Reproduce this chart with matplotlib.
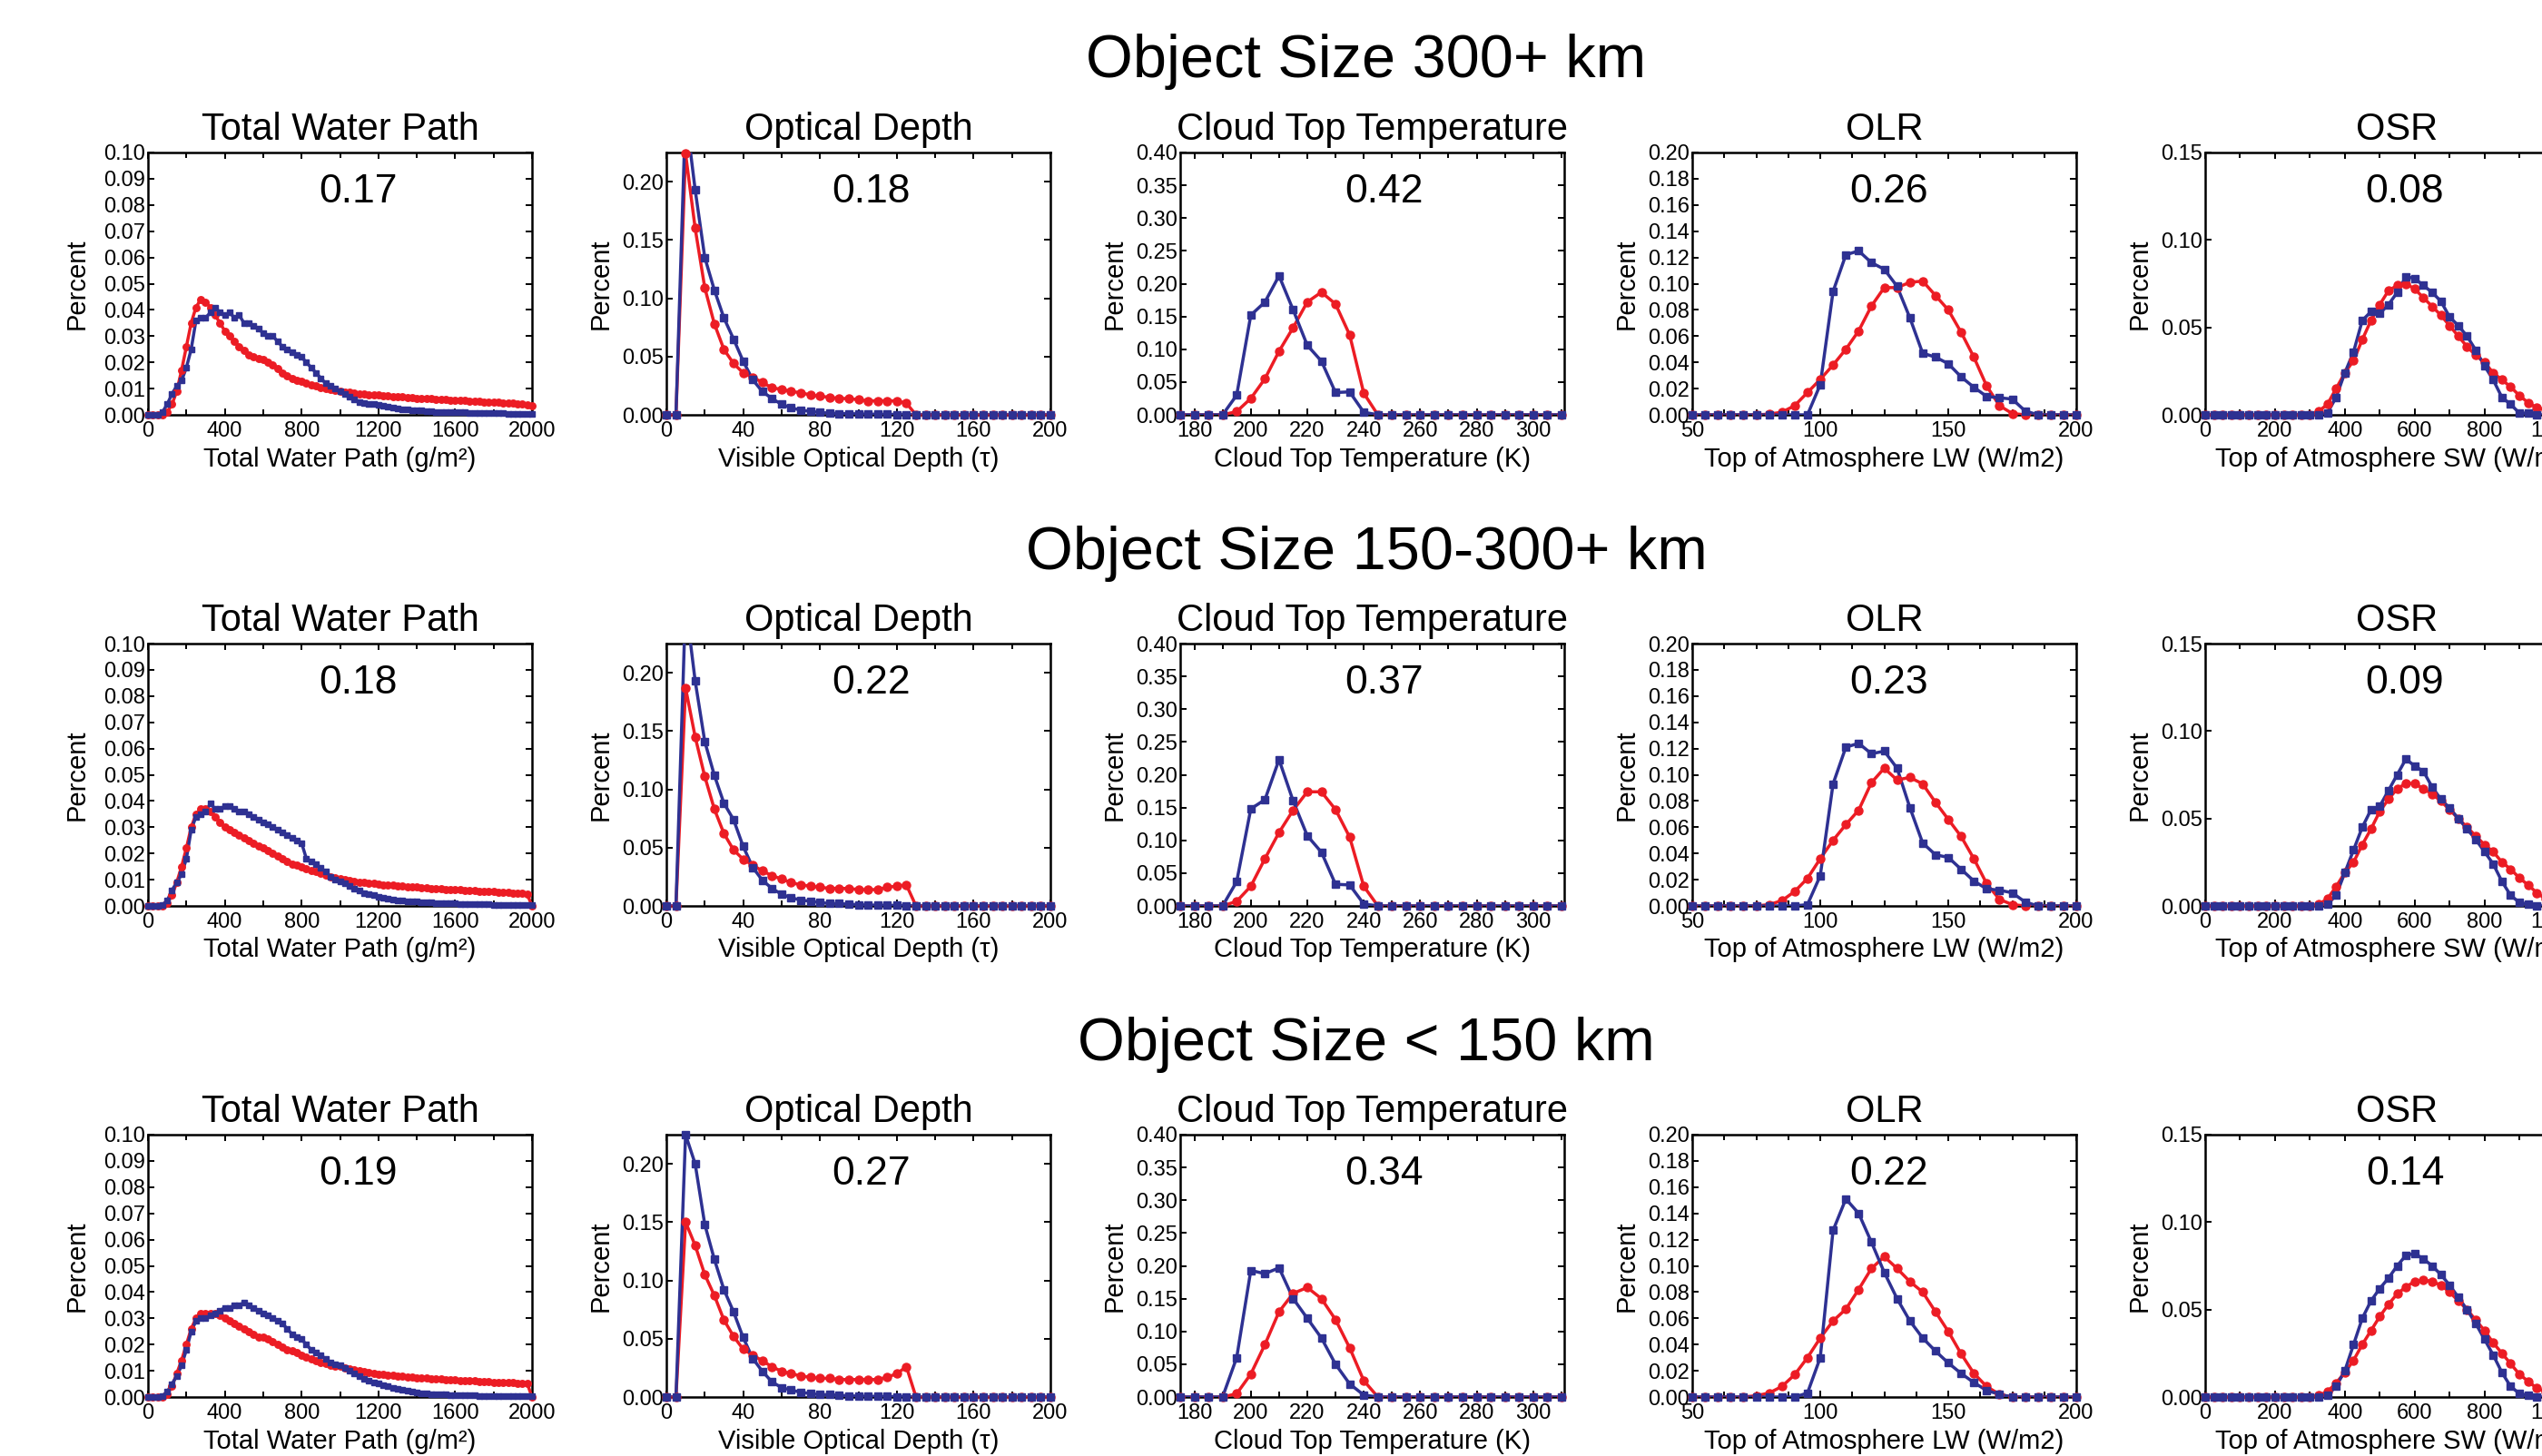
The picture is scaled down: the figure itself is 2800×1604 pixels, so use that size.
import matplotlib
matplotlib.use("Agg")
import matplotlib.pyplot as plt
import numpy as np
from matplotlib.ticker import MultipleLocator, FormatStrFormatter

plt.rcParams['font.family'] = ['Liberation Sans', 'DejaVu Sans']

RED = '#EC1C24'
BLUE = '#2E3192'

row_titles = ["Object Size 300+ km", "Object Size 150-300+ km", "Object Size < 150 km"]
panel_titles = ["Total Water Path", "Optical Depth", "Cloud Top Temperature", "OLR", "OSR"]
x_labels = ["Total Water Path (g/m\u00b2)", "Visible Optical Depth (\u03c4)",
            "Cloud Top Temperature (K)", "Top of Atmosphere LW (W/m2)",
            "Top of Atmosphere SW (W/m2)"]
scores = [["0.17", "0.18", "0.42", "0.26", "0.08"],
          ["0.18", "0.22", "0.37", "0.23", "0.09"],
          ["0.19", "0.27", "0.34", "0.22", "0.14"]]

# ---------------- bin centres ----------------
twp_x = np.arange(0, 2001, 25)
od_x = np.arange(0, 201, 5)
ctt_x = np.arange(175, 311, 5)
olr_x = np.arange(50, 201, 5)
osr_x = np.arange(0, 1001, 25)

# ---------------- Total Water Path ----------------
twp_red_300 = [0, 0, 0, 0, 0.001, 0.004, 0.009, 0.017, 0.026, 0.035,
               0.041, 0.044, 0.043, 0.041, 0.038, 0.035, 0.032, 0.030, 0.028, 0.026,
               0.0245, 0.023, 0.022, 0.0215, 0.021, 0.020, 0.019, 0.0175, 0.016, 0.015,
               0.014, 0.0133, 0.0127, 0.0121, 0.0115, 0.011, 0.0105, 0.0101, 0.0097, 0.0094,
               0.0091, 0.0088, 0.0085, 0.0083, 0.0081, 0.0079, 0.0077, 0.0076, 0.0075, 0.0073,
               0.0072, 0.0070, 0.0069, 0.0068, 0.0066, 0.0065, 0.0064, 0.0063, 0.0062, 0.0061,
               0.0060, 0.0059, 0.0058, 0.0057, 0.0056, 0.0055, 0.0054, 0.0053, 0.0052, 0.0051,
               0.0050, 0.0049, 0.0048, 0.0047, 0.0046, 0.0045, 0.0044, 0.0042, 0.0040, 0.0038,
               0.0035]
twp_blue_300 = [0, 0, 0, 0.001, 0.004, 0.008, 0.011, 0.013, 0.018, 0.025,
                0.036, 0.037, 0.037, 0.039, 0.041, 0.039, 0.038, 0.039, 0.037, 0.038,
                0.035, 0.035, 0.034, 0.033, 0.031, 0.030, 0.030, 0.028, 0.026, 0.025,
                0.024, 0.023, 0.022, 0.020, 0.018, 0.016, 0.014, 0.012, 0.011, 0.010,
                0.009, 0.008, 0.007, 0.006, 0.005, 0.0045, 0.004, 0.004, 0.0038, 0.0033,
                0.0030, 0.0027, 0.0024, 0.0022, 0.0020, 0.0019, 0.0017, 0.0016, 0.0014, 0.0013,
                0.0012, 0.0011, 0.0011, 0.0010, 0.0010, 0.0009, 0.0009, 0.0008, 0.0008, 0.0007,
                0.0007, 0.0007, 0.0006, 0.0006, 0.0006, 0.0005, 0.0005, 0.0005, 0.0004, 0.0004,
                0.0004]
twp_red_150 = [0, 0, 0, 0, 0.001, 0.004, 0.009, 0.015, 0.022, 0.030,
               0.035, 0.037, 0.037, 0.036, 0.034, 0.032, 0.030, 0.029, 0.028, 0.027,
               0.026, 0.025, 0.024, 0.023, 0.022, 0.021, 0.020, 0.019, 0.018, 0.017,
               0.016, 0.0155, 0.015, 0.0142, 0.0135, 0.013, 0.0123, 0.0117, 0.0112, 0.0107,
               0.0103, 0.0099, 0.0096, 0.0094, 0.0091, 0.0089, 0.0087, 0.0085, 0.0083, 0.0081,
               0.0080, 0.0078, 0.0077, 0.0075, 0.0074, 0.0072, 0.0071, 0.0070, 0.0068, 0.0067,
               0.0066, 0.0065, 0.0064, 0.0063, 0.0062, 0.0061, 0.0060, 0.0059, 0.0058, 0.0057,
               0.0056, 0.0055, 0.0054, 0.0053, 0.0052, 0.0051, 0.0050, 0.0049, 0.0048, 0.0045,
               0.0]
twp_blue_150 = [0, 0, 0, 0.0005, 0.002, 0.006, 0.009, 0.012, 0.018, 0.029,
                0.034, 0.035, 0.036, 0.039, 0.037, 0.037, 0.038, 0.038, 0.037, 0.036,
                0.036, 0.035, 0.034, 0.033, 0.032, 0.031, 0.030, 0.029, 0.028, 0.027,
                0.026, 0.025, 0.024, 0.018, 0.017, 0.016, 0.0145, 0.013, 0.011, 0.010,
                0.0092, 0.0085, 0.0075, 0.0065, 0.0058, 0.0050, 0.0045, 0.0040, 0.0035, 0.0030,
                0.0027, 0.0025, 0.0022, 0.0020, 0.0018, 0.0017, 0.0016, 0.0015, 0.0014, 0.0013,
                0.0012, 0.0011, 0.0010, 0.0010, 0.0009, 0.0008, 0.0008, 0.0007, 0.0007, 0.0006,
                0.0006, 0.0006, 0.0005, 0.0005, 0.0005, 0.0004, 0.0004, 0.0004, 0.0003, 0.0003,
                0.0003]
twp_red_small = [0, 0, 0, 0, 0.001, 0.004, 0.009, 0.014, 0.020, 0.026,
                 0.030, 0.032, 0.032, 0.032, 0.032, 0.031, 0.030, 0.029, 0.028, 0.027,
                 0.026, 0.025, 0.024, 0.023, 0.023, 0.022, 0.021, 0.020, 0.019, 0.018,
                 0.0175, 0.0168, 0.016, 0.0153, 0.0147, 0.014, 0.0133, 0.0127, 0.0122, 0.0119,
                 0.0116, 0.0112, 0.0108, 0.0104, 0.0100, 0.0097, 0.0094, 0.0091, 0.0088, 0.0086,
                 0.0084, 0.0082, 0.0080, 0.0078, 0.0076, 0.0075, 0.0073, 0.0072, 0.0071, 0.0070,
                 0.0069, 0.0068, 0.0067, 0.0066, 0.0065, 0.0064, 0.0063, 0.0062, 0.0061, 0.0060,
                 0.0059, 0.0058, 0.0057, 0.0056, 0.0056, 0.0055, 0.0054, 0.0053, 0.0053, 0.0052,
                 0.0]
twp_blue_small = [0, 0, 0, 0.0005, 0.002, 0.005, 0.008, 0.012, 0.018, 0.025,
                  0.029, 0.030, 0.030, 0.031, 0.032, 0.033, 0.034, 0.034, 0.035, 0.035,
                  0.036, 0.035, 0.034, 0.033, 0.032, 0.031, 0.030, 0.029, 0.028, 0.026,
                  0.024, 0.023, 0.022, 0.020, 0.018, 0.017, 0.016, 0.0145, 0.013, 0.0125,
                  0.012, 0.011, 0.010, 0.009, 0.008, 0.007, 0.0063, 0.0057, 0.0052, 0.0045,
                  0.0040, 0.0035, 0.0030, 0.0026, 0.0023, 0.0020, 0.0017, 0.0015, 0.0013, 0.0012,
                  0.0011, 0.0010, 0.0009, 0.0008, 0.0008, 0.0007, 0.0007, 0.0006, 0.0006, 0.0005,
                  0.0005, 0.0005, 0.0004, 0.0004, 0.0004, 0.0003, 0.0003, 0.0003, 0.0003, 0.0002,
                  0.0002]

# ---------------- Optical Depth ----------------
od_red_300 = [0, 0, 0.224, 0.160, 0.109, 0.078, 0.056, 0.044, 0.036, 0.032,
              0.028, 0.023, 0.022, 0.020, 0.019, 0.017, 0.016, 0.015, 0.014, 0.014,
              0.013, 0.012, 0.012, 0.012, 0.012, 0.010, 0, 0, 0, 0,
              0, 0, 0, 0, 0, 0, 0, 0, 0, 0, 0]
od_blue_300 = [0, 0, 0.26, 0.193, 0.135, 0.107, 0.083, 0.065, 0.046, 0.030,
               0.020, 0.014, 0.009, 0.006, 0.004, 0.003, 0.002, 0.0015, 0.001, 0.001,
               0.0008, 0.0006, 0.0005, 0.0004, 0.0003, 0.0003, 0, 0, 0, 0,
               0, 0, 0, 0, 0, 0, 0, 0, 0, 0, 0]
od_red_150 = [0, 0, 0.187, 0.145, 0.111, 0.083, 0.062, 0.048, 0.040, 0.035,
              0.030, 0.026, 0.023, 0.020, 0.018, 0.017, 0.016, 0.015, 0.015, 0.015,
              0.014, 0.014, 0.014, 0.016, 0.017, 0.018, 0, 0, 0, 0,
              0, 0, 0, 0, 0, 0, 0, 0, 0, 0, 0]
od_blue_150 = [0, 0, 0.26, 0.193, 0.141, 0.112, 0.088, 0.074, 0.051, 0.033,
               0.022, 0.015, 0.010, 0.007, 0.005, 0.004, 0.003, 0.002, 0.002, 0.0015,
               0.001, 0.0008, 0.0006, 0.0005, 0.0004, 0.0003, 0, 0, 0, 0,
               0, 0, 0, 0, 0, 0, 0, 0, 0, 0, 0]
od_red_small = [0, 0, 0.150, 0.130, 0.105, 0.087, 0.066, 0.052, 0.041, 0.036,
                0.031, 0.026, 0.022, 0.020, 0.018, 0.017, 0.016, 0.016, 0.015, 0.015,
                0.015, 0.015, 0.015, 0.017, 0.020, 0.026, 0, 0, 0, 0,
                0, 0, 0, 0, 0, 0, 0, 0, 0, 0, 0]
od_blue_small = [0, 0, 0.225, 0.200, 0.148, 0.118, 0.092, 0.073, 0.051, 0.033,
                 0.022, 0.013, 0.008, 0.006, 0.004, 0.003, 0.002, 0.002, 0.0015, 0.001,
                 0.0008, 0.0006, 0.0005, 0.0004, 0.0003, 0.0003, 0, 0, 0, 0,
                 0, 0, 0, 0, 0, 0, 0, 0, 0, 0, 0]

# ---------------- Cloud Top Temperature ----------------
ctt_red_300 = [0, 0, 0, 0, 0.005, 0.025, 0.055, 0.097, 0.133, 0.172, 0.187, 0.169, 0.122, 0.033,
               0, 0, 0, 0, 0, 0, 0, 0, 0, 0, 0, 0, 0, 0]
ctt_blue_300 = [0, 0, 0, 0, 0.030, 0.152, 0.172, 0.212, 0.160, 0.106, 0.082, 0.034, 0.035, 0.004,
                0, 0, 0, 0, 0, 0, 0, 0, 0, 0, 0, 0, 0, 0]
ctt_red_150 = [0, 0, 0, 0, 0.007, 0.030, 0.072, 0.112, 0.146, 0.174, 0.174, 0.147, 0.105, 0.030,
               0, 0, 0, 0, 0, 0, 0, 0, 0, 0, 0, 0, 0, 0]
ctt_blue_150 = [0, 0, 0, 0, 0.037, 0.148, 0.162, 0.223, 0.160, 0.107, 0.082, 0.033, 0.032, 0.003,
                0, 0, 0, 0, 0, 0, 0, 0, 0, 0, 0, 0, 0, 0]
ctt_red_small = [0, 0, 0, 0, 0.005, 0.035, 0.080, 0.130, 0.158, 0.167, 0.150, 0.118, 0.075, 0.025,
                 0, 0, 0, 0, 0, 0, 0, 0, 0, 0, 0, 0, 0, 0]
ctt_blue_small = [0, 0, 0, 0, 0.060, 0.193, 0.188, 0.197, 0.150, 0.120, 0.090, 0.050, 0.020, 0.003,
                  0, 0, 0, 0, 0, 0, 0, 0, 0, 0, 0, 0, 0, 0]

# ---------------- OLR ----------------
olr_red_300 = [0, 0, 0, 0, 0, 0, 0.0005, 0.002, 0.007, 0.017, 0.027, 0.038, 0.050, 0.064,
               0.083, 0.097, 0.097, 0.101, 0.102, 0.091, 0.080, 0.063, 0.044, 0.022, 0.007,
               0.001, 0, 0, 0, 0, 0]
olr_blue_300 = [0, 0, 0, 0, 0, 0, 0, 0, 0, 0, 0.023, 0.094, 0.122, 0.125, 0.116, 0.111,
                0.098, 0.074, 0.047, 0.044, 0.039, 0.029, 0.021, 0.014, 0.013, 0.012, 0.003,
                0, 0, 0, 0]
olr_red_150 = [0, 0, 0, 0, 0, 0, 0.001, 0.004, 0.011, 0.021, 0.036, 0.050, 0.062, 0.073,
               0.094, 0.105, 0.096, 0.098, 0.093, 0.079, 0.066, 0.053, 0.036, 0.017, 0.005,
               0.001, 0, 0, 0, 0, 0]
olr_blue_150 = [0, 0, 0, 0, 0, 0, 0, 0, 0, 0.001, 0.023, 0.093, 0.121, 0.124, 0.116, 0.118,
                0.105, 0.075, 0.048, 0.039, 0.037, 0.028, 0.019, 0.013, 0.012, 0.010, 0.003,
                0, 0, 0, 0]
olr_red_small = [0, 0, 0, 0, 0, 0.001, 0.003, 0.008, 0.017, 0.030, 0.045, 0.058, 0.067, 0.082,
                 0.098, 0.107, 0.098, 0.088, 0.080, 0.065, 0.050, 0.033, 0.018, 0.008, 0.002,
                 0, 0, 0, 0, 0, 0]
olr_blue_small = [0, 0, 0, 0, 0, 0, 0, 0, 0, 0.003, 0.030, 0.127, 0.151, 0.140, 0.118, 0.095,
                  0.075, 0.058, 0.045, 0.035, 0.026, 0.018, 0.011, 0.005, 0.002,
                  0, 0, 0, 0, 0, 0]

# ---------------- OSR ----------------
osr_red_300 = [0, 0, 0, 0, 0, 0, 0, 0, 0, 0, 0, 0, 0,
               0.002, 0.006, 0.015, 0.024, 0.031, 0.043, 0.054, 0.063, 0.071, 0.074, 0.075,
               0.072, 0.067, 0.062, 0.057, 0.051, 0.045, 0.039, 0.034, 0.030, 0.024, 0.020,
               0.016, 0.011, 0.007, 0.004, 0.003, 0.002]
osr_blue_300 = [0, 0, 0, 0, 0, 0, 0, 0, 0, 0, 0, 0, 0, 0,
                0.001, 0.010, 0.024, 0.036, 0.054, 0.059, 0.058, 0.063, 0.070, 0.079, 0.078,
                0.074, 0.070, 0.065, 0.056, 0.051, 0.045, 0.037, 0.028, 0.020, 0.010, 0.006,
                0.001, 0.001, 0, 0, 0]
osr_red_150 = [0, 0, 0, 0, 0, 0, 0, 0, 0, 0, 0, 0, 0,
               0.001, 0.004, 0.011, 0.019, 0.025, 0.035, 0.044, 0.054, 0.061, 0.067, 0.070,
               0.070, 0.067, 0.064, 0.060, 0.055, 0.050, 0.045, 0.040, 0.035, 0.031, 0.025,
               0.021, 0.016, 0.012, 0.0075, 0.004, 0.002]
osr_blue_150 = [0, 0, 0, 0, 0, 0, 0, 0, 0, 0, 0, 0, 0, 0,
                0.001, 0.006, 0.019, 0.032, 0.045, 0.055, 0.057, 0.066, 0.075, 0.084, 0.080,
                0.077, 0.068, 0.061, 0.056, 0.050, 0.044, 0.038, 0.031, 0.024, 0.014, 0.006,
                0.002, 0.001, 0, 0, 0]
osr_red_small = [0, 0, 0, 0, 0, 0, 0, 0, 0, 0, 0, 0, 0,
                 0.001, 0.003, 0.008, 0.014, 0.021, 0.030, 0.038, 0.046, 0.053, 0.059, 0.063,
                 0.066, 0.067, 0.066, 0.064, 0.060, 0.055, 0.050, 0.044, 0.038, 0.031, 0.025,
                 0.019, 0.013, 0.009, 0.005, 0.003, 0.002]
osr_blue_small = [0, 0, 0, 0, 0, 0, 0, 0, 0, 0, 0, 0, 0, 0,
                  0.001, 0.006, 0.015, 0.030, 0.045, 0.055, 0.062, 0.068, 0.075, 0.081, 0.082,
                  0.079, 0.075, 0.070, 0.064, 0.057, 0.050, 0.042, 0.033, 0.024, 0.014, 0.006,
                  0.002, 0.001, 0, 0, 0]

data = [
    [(twp_x, twp_red_300, twp_blue_300), (od_x, od_red_300, od_blue_300),
     (ctt_x, ctt_red_300, ctt_blue_300), (olr_x, olr_red_300, olr_blue_300),
     (osr_x, osr_red_300, osr_blue_300)],
    [(twp_x, twp_red_150, twp_blue_150), (od_x, od_red_150, od_blue_150),
     (ctt_x, ctt_red_150, ctt_blue_150), (olr_x, olr_red_150, olr_blue_150),
     (osr_x, osr_red_150, osr_blue_150)],
    [(twp_x, twp_red_small, twp_blue_small), (od_x, od_red_small, od_blue_small),
     (ctt_x, ctt_red_small, ctt_blue_small), (olr_x, olr_red_small, olr_blue_small),
     (osr_x, osr_red_small, osr_blue_small)],
]

# axis settings per column
col_cfg = [
    dict(xlim=(0, 2000), ylim=(0, 0.10), xmaj=400, xmin=200, ymaj=0.01, ms=(5.4, 4.8)),
    dict(xlim=(0, 200), ylim=(0, 0.225), xmaj=40, xmin=20, ymaj=0.05, ms=(6.5, 5.6)),
    dict(xlim=(175, 311), ylim=(0, 0.40), xmaj=20, xmin=10, ymaj=0.05, ms=(6.5, 5.6)),
    dict(xlim=(50, 200), ylim=(0, 0.20), xmaj=50, xmin=12.5, ymaj=0.02, ms=(6.5, 5.6)),
    dict(xlim=(0, 1100), ylim=(0, 0.15), xmaj=200, xmin=100, ymaj=0.05, ms=(6.5, 5.6)),
]
score_x = [0.547, 0.534, 0.53, 0.512, 0.52]

W, H = 2800, 1604
fig = plt.figure(figsize=(W / 100, H / 100), dpi=100)
fig.patch.set_facecolor('white')

col_left = [163, 734, 1300, 1864, 2429]
ax_w = 423
row_top = [168, 709, 1250]
ax_h = 289
suptitle_y = [68, 610, 1151]
title_y = [143, 684, 1225]

for r in range(3):
    fig.text(1505 / W, 1 - suptitle_y[r] / H, row_titles[r], ha='center', va='center',
             fontsize=48)
    for c in range(5):
        cfg = col_cfg[c]
        left = col_left[c]
        ax = fig.add_axes([left / W, 1 - (row_top[r] + ax_h) / H, ax_w / W, ax_h / H])
        x, red, blue = data[r][c]
        x = np.asarray(x, dtype=float)
        for y, col, mk, ms in [(np.asarray(red, float), RED, 'o', cfg['ms'][0]),
                               (np.asarray(blue, float), BLUE, 's', cfg['ms'][1])]:
            ax.plot(x, y, '-', color=col, lw=2.5, zorder=3, clip_on=True)
            inside = y <= cfg['ylim'][1]
            ax.plot(x[inside], y[inside], linestyle='none', marker=mk, ms=ms,
                    color=col, mec=col, zorder=4, clip_on=False)
        ax.set_xlim(*cfg['xlim'])
        ax.set_ylim(*cfg['ylim'])
        ax.xaxis.set_major_locator(MultipleLocator(cfg['xmaj']))
        ax.xaxis.set_minor_locator(MultipleLocator(cfg['xmin']))
        ax.yaxis.set_major_locator(MultipleLocator(cfg['ymaj']))
        ax.xaxis.set_major_formatter(FormatStrFormatter('%d'))
        ax.yaxis.set_major_formatter(FormatStrFormatter('%.2f'))
        ax.tick_params(which='both', direction='in', top=True, right=True, width=1.4,
                       colors='black')
        ax.tick_params(which='major', length=5, labelsize=17)
        ax.tick_params(which='minor', length=4)
        ax.tick_params(axis='y', pad=2)
        ax.tick_params(axis='x', pad=5)
        for sp in ax.spines.values():
            sp.set_linewidth(1.8)
            sp.set_color('black')
        ax.set_xlabel(x_labels[c], fontsize=21, labelpad=4)
        ax.set_ylabel("Percent", fontsize=21, labelpad=11 if c == 0 else 7)
        ax.text(score_x[c], 0.85, scores[r][c], transform=ax.transAxes, ha='center',
                va='center', fontsize=32)
        fig.text((left + ax_w / 2) / W, 1 - title_y[r] / H, panel_titles[c],
                 ha='center', va='center', fontsize=30)

fig.savefig("out.png", dpi=100, facecolor='white')
